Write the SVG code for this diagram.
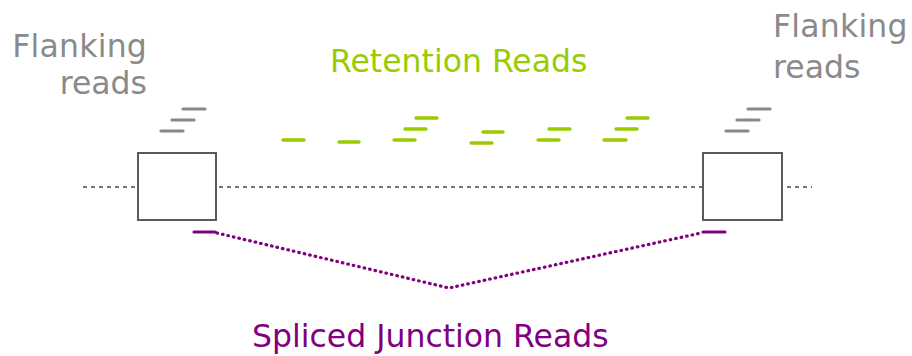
<svg xmlns="http://www.w3.org/2000/svg" width="912" height="356" viewBox="0 0 912 356">
  <style>
    text { font-family: "DejaVu Sans", "Liberation Sans", sans-serif; font-size: 31.5px; }
    .grey { fill: #8a8a8a; }
    .green { fill: #99cc00; }
    .purple { fill: #800080; }
    .exon { fill: #ffffff; stroke: #5a5a5a; stroke-width: 2; }
    .intron { stroke: #707070; stroke-width: 2; stroke-dasharray: 4 4; fill: none; }
    .flank line { stroke: #888888; stroke-width: 3.2; stroke-linecap: round; }
    .ret line { stroke: #99cc00; stroke-width: 3.4; stroke-linecap: round; }
    .junc { stroke: #800080; stroke-width: 3.2; stroke-linecap: round; fill: none; }
    .dots { stroke-dasharray: 0.6 5; }
  </style>

  <!-- intron backbone -->
  <g id="backbone">
    <line class="intron" x1="83" y1="187" x2="812" y2="187"/>
  </g>

  <!-- exons -->
  <g id="exon-left">
    <rect class="exon" x="138" y="153" width="78" height="67"/>
  </g>
  <g id="exon-right">
    <rect class="exon" x="703" y="153" width="79" height="67"/>
  </g>

  <!-- flanking reads -->
  <g id="flank-left" class="flank">
    <text class="grey" x="147" y="57" text-anchor="end" letter-spacing="0.2">Flanking</text>
    <text class="grey" x="147" y="94" text-anchor="end">reads</text>
    <line x1="183" y1="109" x2="205" y2="109"/>
    <line x1="172" y1="120" x2="194" y2="120"/>
    <line x1="161" y1="131" x2="183" y2="131"/>
  </g>
  <g id="flank-right" class="flank">
    <text class="grey" x="773" y="37" letter-spacing="0.2">Flanking</text>
    <text class="grey" x="773" y="78">reads</text>
    <line x1="748" y1="109" x2="770" y2="109"/>
    <line x1="737" y1="120" x2="759" y2="120"/>
    <line x1="726" y1="131" x2="748" y2="131"/>
  </g>

  <!-- retention reads -->
  <g id="retention" class="ret">
    <text class="green" x="330" y="72">Retention Reads</text>
    <line x1="283" y1="140" x2="304" y2="140"/>
    <line x1="339" y1="142" x2="359" y2="142"/>
    <line x1="394" y1="140" x2="415" y2="140"/>
    <line x1="405" y1="129" x2="426" y2="129"/>
    <line x1="416" y1="118" x2="437" y2="118"/>
    <line x1="471" y1="143" x2="492" y2="143"/>
    <line x1="483" y1="132" x2="503" y2="132"/>
    <line x1="538" y1="140" x2="559" y2="140"/>
    <line x1="549" y1="129" x2="570" y2="129"/>
    <line x1="604" y1="140" x2="626" y2="140"/>
    <line x1="616" y1="129" x2="637" y2="129"/>
    <line x1="627" y1="118" x2="648" y2="118"/>
  </g>

  <!-- spliced junction reads -->
  <g id="junction">
    <line class="junc" x1="194" y1="232" x2="215" y2="232"/>
    <line class="junc" x1="703" y1="232" x2="725" y2="232"/>
    <polyline class="junc dots" points="217,233 449,288 701,233"/>
    <text class="purple" x="252" y="347">Spliced Junction Reads</text>
  </g>
</svg>
